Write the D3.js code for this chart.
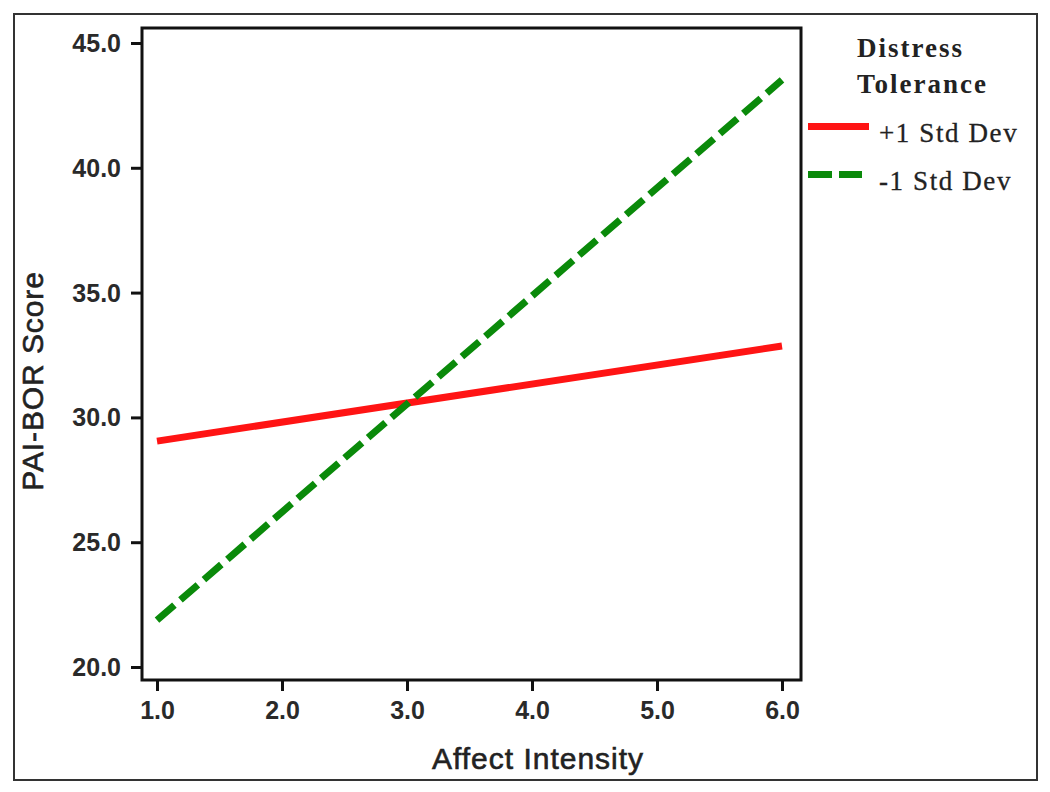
<!DOCTYPE html>
<html>
<head>
<meta charset="utf-8">
<script src="https://cdn.jsdelivr.net/npm/d3@7"></script>
<style>
  html, body { margin: 0; padding: 0; background: #fff; }
  svg { display: block; }
</style>
</head>
<body>
<div id="chart"></div>
<script>
// ---- data ----
const xTicks = [1, 2, 3, 4, 5, 6];
const yTicks = [20, 25, 30, 35, 40, 45];
const affectIntensity = [1, 6];
const highDT = [29.05, 32.86];   // +1 Std Dev
const lowDT = [21.88, 43.52];    // -1 Std Dev
const seriesNames = ["+1 Std Dev", "-1 Std Dev"];
const legendTitle = ["Distress", "Tolerance"];
const xTitle = "Affect Intensity";
const yTitle = "PAI-BOR Score";

const W = 1050, H = 792;
const plot = { left: 142, top: 28, right: 801, bottom: 680 };

const svg = d3.select("#chart").append("svg")
  .attr("width", W).attr("height", H);

svg.append("rect").attr("width", W).attr("height", H).attr("fill", "#fff");

// outer frame
svg.append("rect")
  .attr("x", 14).attr("y", 14).attr("width", 1023).attr("height", 766)
  .attr("fill", "none").attr("stroke", "#333").attr("stroke-width", 2);

const x = d3.scaleLinear().domain([0.88, 6.152]).range([plot.left, plot.right]);
const y = d3.scaleLinear().domain([19.48, 45.6]).range([plot.bottom, plot.top]);

const tickFont = "'Liberation Sans', Arial, sans-serif";

// x axis
const xAxis = svg.append("g")
  .attr("transform", `translate(0,${plot.bottom})`)
  .call(d3.axisBottom(x).tickValues(xTicks).tickFormat(d3.format(".1f")).tickSize(11).tickPadding(10));
// y axis
const yAxis = svg.append("g")
  .attr("transform", `translate(${plot.left},0)`)
  .call(d3.axisLeft(y).tickValues(yTicks).tickFormat(d3.format(".1f")).tickSize(11).tickPadding(10));

[xAxis, yAxis].forEach(g => {
  g.select(".domain").remove();
  g.selectAll(".tick line").attr("stroke", "#111").attr("stroke-width", 3);
  g.selectAll(".tick text")
    .attr("fill", "#2a2a2a")
    .style("font-family", tickFont)
    .style("font-weight", "bold")
    .style("font-size", "25px");
});
yAxis.selectAll(".tick text").attr("dy", "0.34em");

// plot frame
svg.append("rect")
  .attr("x", plot.left).attr("y", plot.top)
  .attr("width", plot.right - plot.left).attr("height", plot.bottom - plot.top)
  .attr("fill", "none").attr("stroke", "#111").attr("stroke-width", 3);

// lines
const line = d3.line().x(d => x(d[0])).y(d => y(d[1]));
const redData = affectIntensity.map((v, i) => [v, highDT[i]]);
const greenData = affectIntensity.map((v, i) => [v, lowDT[i]]);

svg.append("path").datum(redData)
  .attr("d", line).attr("fill", "none")
  .attr("stroke", "#ff1414").attr("stroke-width", 7);

svg.append("path").datum(greenData)
  .attr("d", line).attr("fill", "none")
  .attr("stroke", "#0a8a0a").attr("stroke-width", 7)
  .attr("stroke-dasharray", "23,8");

// axis titles
svg.append("text")
  .attr("x", 538).attr("y", 769)
  .attr("text-anchor", "middle")
  .attr("fill", "#222")
  .attr("stroke", "#222").attr("stroke-width", 0.6)
  .style("font-family", tickFont).style("font-size", "30px")
  .style("letter-spacing", "1px")
  .text(xTitle);

svg.append("text")
  .attr("transform", "translate(43,381) rotate(-90)")
  .attr("text-anchor", "middle")
  .attr("fill", "#222")
  .attr("stroke", "#222").attr("stroke-width", 0.6)
  .style("font-family", tickFont).style("font-size", "30px")
  .style("letter-spacing", "0.9px")
  .text(yTitle);

// legend
const serif = "'Liberation Serif', 'Times New Roman', serif";
const lg = svg.append("g");
lg.selectAll("text.title").data(legendTitle).join("text")
  .attr("class", "title")
  .attr("x", 857).attr("y", (d, i) => 57 + i * 36)
  .attr("fill", "#222")
  .style("font-family", serif).style("font-weight", "bold")
  .style("font-size", "27px").style("letter-spacing", "2px")
  .text(d => d);

const legendItems = [
  { name: seriesNames[0], color: "#ff1414", dash: null, y: 126.5, len: 61 },
  { name: seriesNames[1], color: "#0a8a0a", dash: "24,7", y: 174.5, len: 54 }
];
legendItems.forEach(it => {
  lg.append("line")
    .attr("x1", 808).attr("x2", 808 + it.len)
    .attr("y1", it.y).attr("y2", it.y)
    .attr("stroke", it.color).attr("stroke-width", 7)
    .attr("stroke-dasharray", it.dash);
  lg.append("text")
    .attr("x", 879).attr("y", it.y + 15)
    .attr("fill", "#222")
    .attr("stroke", "#222").attr("stroke-width", 0.3)
    .style("font-family", serif).style("font-size", "27px")
    .style("letter-spacing", "1.6px")
    .text(it.name);
});
</script>
</body>
</html>
